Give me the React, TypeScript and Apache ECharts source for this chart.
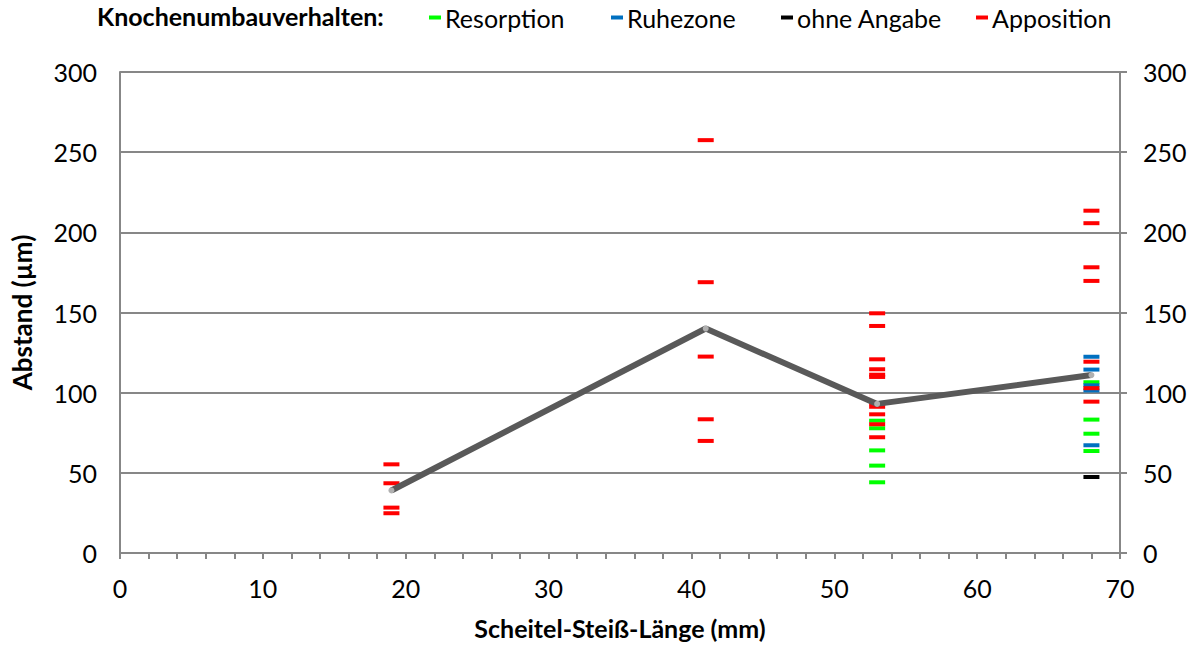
import React, { useEffect, useRef } from "react";
import * as echarts from "echarts";

const lineData: [number, number][] = [[19, 39], [41, 140], [53, 93], [68, 111]];
const resorption: [number, number][] = [
  [53, 82.5], [53, 77.8], [53, 64], [53, 54.5], [53, 44.1],
  [68, 106.5], [68, 83.2], [68, 74.4], [68, 63.6],
];
const ruhezone: [number, number][] = [
  [68, 122.4], [68, 114.4], [68, 104.6], [68, 101.4], [68, 67.2],
];
const ohneAngabe: [number, number][] = [[68, 47.4]];
const apposition: [number, number][] = [
  [19, 55.3], [19, 43.5], [19, 28.3], [19, 24.8],
  [41, 257.5], [41, 168.9], [41, 122.5], [41, 83.4], [41, 69.9],
  [53, 149.5], [53, 141.6], [53, 120.8], [53, 114.6], [53, 111.2], [53, 109.8],
  [53, 93.4], [53, 91.2], [53, 86.5], [53, 80.3], [53, 72.2],
  [68, 213.5], [68, 205.7], [68, 178.2], [68, 169.7], [68, 119.3], [68, 102.8], [68, 94.4],
];

const FONT = "Lato, 'Open Sans', sans-serif";
const GRID = "#878787";
const FS = 25;

export default function App() {
  const ref = useRef<HTMLDivElement>(null);
  useEffect(() => {
    document.body.style.margin = "0";
    const chart = echarts.init(ref.current!, null, { renderer: "svg" });
    const dash = (name: string, color: string, data: [number, number][]) => ({
      name,
      type: "scatter",
      data,
      symbol: "rect",
      symbolSize: [16, 4],
      itemStyle: { color, opacity: 1 },
      z: 3,
    });
    const leg = (name: string, left: number) => ({
      data: [name],
      left,
      top: 0,
      icon: "rect",
      itemWidth: 12,
      itemHeight: 4,
      itemGap: 4,
      textStyle: { fontFamily: FONT, fontSize: FS, color: "#000", padding: [0, 0, 0, -1] },
      selectedMode: false,
    });
    chart.setOption({
      animation: false,
      textStyle: { fontFamily: FONT },
      grid: { left: 120, right: 77, top: 72, bottom: 95, outerBoundsMode: "none", containLabel: false },
      graphic: [
        {
          type: "text",
          left: 97,
          top: 3,
          style: { text: "Knochenumbauverhalten:", font: `bold 25px ${FONT}`, fill: "#000" },
        },
      ],
      legend: [
        leg("Resorption", 424),
        leg("Ruhezone", 606),
        leg("ohne Angabe", 776),
        leg("Apposition", 971),
      ],
      xAxis: {
        type: "value",
        min: 0,
        max: 70,
        interval: 10,
        name: "Scheitel-Steiß-Länge (mm)",
        nameLocation: "middle",
        nameGap: 62,
        nameTextStyle: { fontFamily: FONT, fontSize: 25, fontWeight: "bold", color: "#000" },
        axisLine: { show: true, lineStyle: { color: GRID, width: 2 } },
        axisTick: { show: true, length: 6, lineStyle: { color: GRID, width: 2 } },
        minorTick: { show: true, splitNumber: 5, length: 6, lineStyle: { color: GRID, width: 2 } },
        splitLine: { show: false },
        axisLabel: { fontFamily: FONT, fontSize: FS, color: "#000", margin: 22 },
      },
      yAxis: [
        {
          type: "value",
          min: 0,
          max: 300,
          interval: 50,
          position: "left",
          name: "Abstand (µm)",
          nameLocation: "middle",
          nameGap: 85,
          nameRotate: 90,
          nameTextStyle: { fontFamily: FONT, fontSize: 26, fontWeight: "bold", color: "#000" },
          axisLine: { show: true, lineStyle: { color: GRID, width: 2 } },
          axisTick: { show: false },
          splitLine: { show: true, lineStyle: { color: GRID, width: 2 } },
          axisLabel: { fontFamily: FONT, fontSize: FS, color: "#000", margin: 23 },
        },
        {
          type: "value",
          min: 0,
          max: 300,
          interval: 50,
          position: "right",
          axisLine: { show: true, lineStyle: { color: GRID, width: 2 } },
          axisTick: { show: true, length: 7, lineStyle: { color: GRID, width: 2 } },
          splitLine: { show: false },
          axisLabel: { fontFamily: FONT, fontSize: FS, color: "#000", margin: 23 },
        },
      ],
      series: [
        dash("Resorption", "#00ff00", resorption),
        dash("Ruhezone", "#0070c0", ruhezone),
        dash("ohne Angabe", "#000000", ohneAngabe),
        dash("Apposition", "#ff0000", apposition),
        {
          name: "Mittelwert",
          type: "line",
          data: lineData,
          symbol: "circle",
          symbolSize: 6,
          showSymbol: true,
          lineStyle: { color: "#595959", width: 6 },
          itemStyle: { color: "#b0b0b0", borderWidth: 0 },
          z: 5,
        },
      ],
    });
    return () => chart.dispose();
  }, []);
  return <div ref={ref} style={{ width: 1197, height: 648 }} />;
}
